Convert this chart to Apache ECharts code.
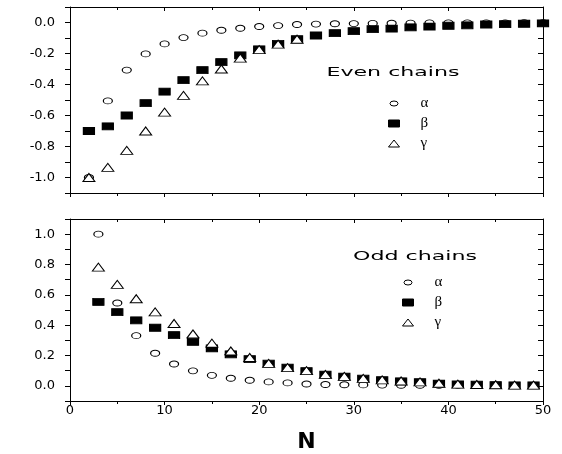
<!DOCTYPE html>
<html>
<head>
<meta charset="utf-8">
<script src="https://cdn.jsdelivr.net/npm/echarts@6/dist/echarts.min.js"></script>
<style>
  html, body { margin: 0; padding: 0; background: #fff; }
  #chart { width: 562px; height: 454px; }
</style>
</head>
<body>
<div id="chart"></div>
<script>
// even chains, N = 2..50
const evenN = [2, 4, 6, 8, 10, 12, 14, 16, 18, 20, 22, 24, 26, 28, 30, 32, 34, 36, 38, 40, 42, 44, 46, 48, 50]
const evenAlpha = [-1.0, -0.506, -0.307, -0.203, -0.138, -0.097, -0.069, -0.05, -0.037, -0.026, -0.02, -0.013,
  -0.010, -0.008, -0.007, -0.006, -0.005, -0.004, -0.003, -0.003, -0.002, -0.002, -0.002, -0.001, -0.001]
const evenBeta = [-0.70, -0.67, -0.60, -0.52, -0.446, -0.372, -0.307, -0.255, -0.212, -0.173, -0.138, -0.108,
  -0.084, -0.069, -0.056, -0.043, -0.039, -0.031, -0.026, -0.021, -0.018, -0.013, -0.011, -0.008, -0.006]
const evenGamma = [-1.0, -0.935, -0.825, -0.70, -0.578, -0.47, -0.377, -0.30, -0.23, -0.175, -0.14, -0.108]

// odd chains, N = 3..49
const oddN = [3, 5, 7, 9, 11, 13, 15, 17, 19, 21, 23, 25, 27, 29, 31, 33, 35, 37, 39, 41, 43, 45, 47, 49]
const oddAlpha = [1.0, 0.546, 0.331, 0.215, 0.144, 0.099, 0.069, 0.05, 0.037, 0.026, 0.019, 0.012,
  0.009, 0.007, 0.006, 0.005, 0.004, 0.004, 0.003, 0.003, 0.002, 0.002, 0.002, 0.002]
const oddBeta = [0.553, 0.486, 0.432, 0.383, 0.335, 0.29, 0.247, 0.208, 0.176, 0.146, 0.12, 0.097,
  0.073, 0.06, 0.047, 0.037, 0.030, 0.024, 0.015, 0.009, 0.007, 0.005, 0.003, 0.003]
const oddGamma = [0.783, 0.669, 0.574, 0.488, 0.411, 0.342, 0.282, 0.23, 0.187, 0.148, 0.12, 0.1,
  0.075, 0.062, 0.049, 0.039, 0.032, 0.026, 0.017, 0.011, 0.009, 0.007, 0.005, 0.005]

const names = ['α', 'β', 'γ']
const xTicks = [0, 10, 20, 30, 40, 50]

const pairs = (xs, ys) => ys.map((y, i) => [xs[i], y])

const ellipse = 'path://M0,3A4.5,3 0 1,1 9,3A4.5,3 0 1,1 0,3Z'
// smaller open ellipse inside the 11x7 legend box (the first two moves only set the box)
const legendEllipse = 'path://M0,0M11,7M1.5,3.5A4,2.5 0 1,1 9.5,3.5A4,2.5 0 1,1 1.5,3.5Z'
const black = '#000'
const labelFont = { fontFamily: 'DejaVu Sans', fontSize: 13, color: black }

function xAxisPair(grid, withLabels) {
  const base = {
    gridIndex: grid, type: 'value', min: 0, max: 50, interval: 10,
    axisLine: { show: true, onZero: false, lineStyle: { color: black, width: 1 } },
    axisTick: { show: true, length: 4, lineStyle: { color: black } },
    minorTick: { show: true, splitNumber: 2, length: 3, lineStyle: { color: black } },
    splitLine: { show: false },
    axisLabel: { show: false },
  }
  const bottom = Object.assign({}, base, { position: 'bottom' })
  if (withLabels) {
    bottom.axisLabel = Object.assign({ show: true, margin: 3, formatter: (v) => xTicks.includes(v) ? String(v) : '' }, labelFont)
    bottom.name = 'N'
    bottom.nameLocation = 'middle'
    bottom.nameGap = 30
    bottom.nameTextStyle = { fontFamily: 'DejaVu Sans', fontSize: 22, fontWeight: 'bold', color: black }
  }
  const top = Object.assign({}, base, { position: 'top', axisTick: { show: true, inside: true, length: 4, lineStyle: { color: black } } })
  return [bottom, top]
}

function yAxisPair(grid, min, max, lo, hi) {
  const base = {
    gridIndex: grid, type: 'value', min: min, max: max, interval: 0.1,
    axisLine: { show: true, onZero: false, lineStyle: { color: black, width: 1 } },
    splitLine: { show: false },
  }
  const left = Object.assign({}, base, {
    position: 'left',
    axisTick: { show: true, length: 5, lineStyle: { color: black } },
    axisLabel: Object.assign({
      margin: 15,
      formatter: (v) => {
        const k = Math.round(v * 10)
        if (k % 2 !== 0 || k < lo * 10 || k > hi * 10) return ''
        return (k / 10).toFixed(1)
      },
    }, labelFont),
  })
  const right = Object.assign({}, base, {
    position: 'right',
    axisTick: { show: true, inside: true, length: 5, lineStyle: { color: black } },
    axisLabel: { show: false },
  })
  return [left, right]
}

function scatter(name, axis, data, symbol, size, fill) {
  return {
    name: name, type: 'scatter', xAxisIndex: axis, yAxisIndex: axis,
    data: data, symbol: symbol, symbolSize: size, silent: true,
    itemStyle: { color: fill, borderColor: black, borderWidth: 1, opacity: 1 },
  }
}

function legendAt(left, top) {
  return {
    data: [{ name: 'α', icon: legendEllipse }, { name: 'β' }, { name: 'γ' }],
    orient: 'vertical', left: left, top: top,
    itemWidth: 11, itemHeight: 7, itemGap: 5, selectedMode: false,
    itemStyle: { borderWidth: 1, borderColor: black },
    textStyle: { fontFamily: 'Liberation Serif', fontSize: 15, color: black, padding: [0, 0, 0, 16] },
  }
}

const chart = echarts.init(document.getElementById('chart'))
chart.setOption({
  backgroundColor: '#fff',
  animation: false,
  grid: [
    { left: 70, right: 19, top: 7, height: 186 },
    { left: 70, right: 19, top: 219, height: 184 },
  ],
  xAxis: [...xAxisPair(0, false), ...xAxisPair(1, true)],
  yAxis: [...yAxisPair(0, -1.1, 0.1, -1.0, 0.0), ...yAxisPair(1, -0.1, 1.1, 0.0, 1.0)],
  legend: [legendAt(383, 91), legendAt(397, 270)],
  graphic: [
    { type: 'text', x: 393, y: 73, scaleX: 1.7,
      style: { text: 'Even chains', font: '13px "DejaVu Sans"', fill: black, textAlign: 'center', textVerticalAlign: 'middle', align: 'center', verticalAlign: 'middle' } },
    { type: 'text', x: 415, y: 257, scaleX: 1.7,
      style: { text: 'Odd chains', font: '13px "DejaVu Sans"', fill: black, textAlign: 'center', textVerticalAlign: 'middle', align: 'center', verticalAlign: 'middle' } },
  ],
  series: [
    scatter('α', 0, pairs(evenN, evenAlpha), ellipse, [9, 6], '#fff'),
    scatter('β', 0, pairs(evenN, evenBeta), 'rect', [11, 7], black),
    scatter('γ', 0, pairs(evenN, evenGamma), 'triangle', [12, 8], '#fff'),
    scatter('α', 2, pairs(oddN, oddAlpha), ellipse, [9, 6], '#fff'),
    scatter('β', 2, pairs(oddN, oddBeta), 'rect', [11, 7], black),
    scatter('γ', 2, pairs(oddN, oddGamma), 'triangle', [12, 8], '#fff'),
  ],
})
</script>
</body>
</html>
